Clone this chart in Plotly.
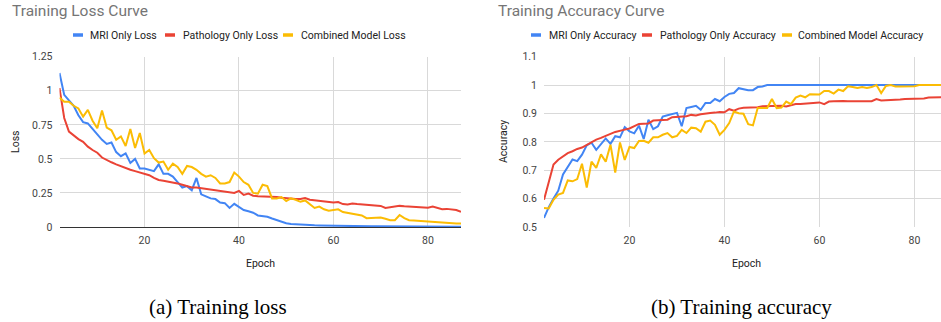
import plotly.graph_objects as go

W, H = 941, 322

epochs = list(range(2, 88))

mri_loss = [1.13, 0.97, 0.93, 0.89, 0.82, 0.77, 0.76, 0.72, 0.68, 0.64, 0.61, 0.62, 0.55, 0.52,
            0.54, 0.47, 0.50, 0.43, 0.43, 0.42, 0.41, 0.46, 0.39, 0.39, 0.37, 0.33, 0.29, 0.30,
            0.27, 0.36, 0.24, 0.225, 0.21, 0.205, 0.18, 0.175, 0.14, 0.17, 0.145, 0.125, 0.115,
            0.105, 0.085, 0.08, 0.075, 0.062, 0.05, 0.038, 0.028, 0.022, 0.019, 0.017, 0.015,
            0.013, 0.012, 0.011, 0.010, 0.009, 0.009, 0.008, 0.008, 0.007, 0.007, 0.006, 0.006,
            0.006, 0.005, 0.005, 0.005, 0.005, 0.004, 0.004, 0.004, 0.004, 0.004, 0.003, 0.003,
            0.003, 0.003, 0.003, 0.003, 0.003, 0.002, 0.002, 0.002, 0.002]
path_loss = [1.02, 0.80, 0.70, 0.67, 0.645, 0.625, 0.59, 0.565, 0.545, 0.51, 0.49, 0.475, 0.46,
             0.445, 0.43, 0.42, 0.41, 0.40, 0.39, 0.38, 0.36, 0.345, 0.34, 0.335, 0.33, 0.32,
             0.31, 0.30, 0.29, 0.29, 0.285, 0.275, 0.275, 0.27, 0.265, 0.26, 0.255, 0.25, 0.265,
             0.235, 0.245, 0.23, 0.225, 0.225, 0.22, 0.225, 0.22, 0.215, 0.21, 0.21, 0.205,
             0.205, 0.212, 0.20, 0.195, 0.19, 0.185, 0.182, 0.18, 0.183, 0.168, 0.165, 0.172,
             0.168, 0.165, 0.163, 0.162, 0.16, 0.155, 0.14, 0.145, 0.15, 0.155, 0.152, 0.15,
             0.146, 0.147, 0.143, 0.142, 0.15, 0.14, 0.13, 0.133, 0.13, 0.125, 0.112]
comb_loss = [0.95, 0.92, 0.92, 0.89, 0.87, 0.81, 0.86, 0.78, 0.725, 0.855, 0.73, 0.71, 0.64,
             0.665, 0.595, 0.72, 0.58, 0.69, 0.54, 0.566, 0.505, 0.473, 0.48, 0.42, 0.465,
             0.44, 0.39, 0.448, 0.44, 0.42, 0.39, 0.37, 0.38, 0.36, 0.32, 0.32, 0.33, 0.40,
             0.37, 0.33, 0.31, 0.25, 0.245, 0.31, 0.30, 0.21, 0.21, 0.22, 0.19, 0.21, 0.20,
             0.185, 0.195, 0.17, 0.14, 0.15, 0.13, 0.12, 0.125, 0.13, 0.11, 0.105, 0.10, 0.09,
             0.085, 0.065, 0.065, 0.07, 0.07, 0.06, 0.05, 0.05, 0.088, 0.065, 0.05, 0.048,
             0.045, 0.045, 0.04, 0.037, 0.033, 0.03, 0.028, 0.026, 0.025, 0.025]

mri_acc = [0.532, 0.57, 0.60, 0.628, 0.685, 0.714, 0.738, 0.732, 0.755, 0.788, 0.797, 0.772,
           0.793, 0.812, 0.793, 0.82, 0.816, 0.852, 0.837, 0.83, 0.857, 0.81, 0.878, 0.845,
           0.855, 0.889, 0.894, 0.899, 0.902, 0.855, 0.919, 0.923, 0.927, 0.913, 0.937, 0.937,
           0.951, 0.943, 0.958, 0.969, 0.972, 0.989, 0.985, 0.982, 0.982, 0.993, 0.995] + [1.0] * 39
path_acc = [0.596, 0.66, 0.72, 0.737, 0.75, 0.76, 0.767, 0.775, 0.78, 0.79, 0.80, 0.808, 0.814,
            0.82, 0.828, 0.835, 0.84, 0.843, 0.847, 0.855, 0.863, 0.864, 0.865, 0.875, 0.876,
            0.877, 0.878, 0.887, 0.888, 0.89, 0.89, 0.895, 0.893, 0.897, 0.90, 0.902, 0.903,
            0.905, 0.904, 0.915, 0.91, 0.917, 0.92, 0.92, 0.92, 0.922, 0.925, 0.926, 0.927,
            0.927, 0.927, 0.925, 0.928, 0.933, 0.933, 0.935, 0.937, 0.938, 0.939, 0.933, 0.942,
            0.943, 0.944, 0.944, 0.943, 0.943, 0.944, 0.944, 0.943, 0.943, 0.951, 0.946, 0.947,
            0.947, 0.948, 0.949, 0.951, 0.951, 0.953, 0.951, 0.953, 0.956, 0.957, 0.957, 0.958,
            0.958]
comb_acc = [0.567, 0.565, 0.596, 0.614, 0.62, 0.664, 0.661, 0.669, 0.723, 0.639, 0.73, 0.708,
            0.756, 0.73, 0.79, 0.692, 0.798, 0.736, 0.782, 0.778, 0.803, 0.804, 0.797, 0.816,
            0.816, 0.825, 0.831, 0.816, 0.821, 0.842, 0.831, 0.85, 0.848, 0.836, 0.871, 0.875,
            0.86, 0.825, 0.842, 0.866, 0.907, 0.901, 0.899, 0.862, 0.858, 0.919, 0.919, 0.919,
            0.951, 0.919, 0.921, 0.942, 0.933, 0.956, 0.963, 0.957, 0.968, 0.968, 0.967, 0.979,
            0.979, 0.97, 0.984, 0.979, 0.996, 0.993, 0.99, 0.993, 0.99, 0.993, 1.0, 0.972,
            0.997, 1.0, 0.995, 0.995, 0.995, 0.995, 0.996, 1.0, 1.0, 1.0, 1.0, 1.0, 1.0, 1.0]

loss_names = ["MRI Only Loss", "Pathology Only Loss", "Combined Model Loss"]
acc_names = ["MRI Only Accuracy", "Pathology Only Accuracy", "Combined Model Accuracy"]
colors = ["#4285F4", "#EA4335", "#FBBC04"]
x_ticks = [20, 40, 60, 80]
loss_ticks = [0, 0.25, 0.5, 0.75, 1, 1.25]
acc_ticks = [0.5, 0.6, 0.7, 0.8, 0.9, 1, 1.1]


def px(x):
    return x / W


def py(y):
    return 1 - y / H


FONT = "Roboto, Arial, sans-serif"
fig = go.Figure()

for name, vals, c in zip(loss_names, [mri_loss, path_loss, comb_loss], colors):
    fig.add_trace(go.Scatter(x=epochs, y=vals, name=name, mode="lines",
                             line=dict(color=c, width=2), xaxis="x", yaxis="y",
                             showlegend=False))
for name, vals, c in zip(acc_names, [mri_acc, path_acc, comb_acc], colors):
    fig.add_trace(go.Scatter(x=epochs, y=vals, name=name, mode="lines",
                             line=dict(color=c, width=2), xaxis="x2", yaxis="y2",
                             showlegend=False))

grid = "#d9d9d9"
tickfont = dict(family=FONT, size=10.5, color="#444444")
common_x = dict(tickvals=x_ticks, showgrid=True, gridcolor=grid, gridwidth=1,
                zeroline=False, showline=False, tickfont=tickfont, ticks="",
                ticklabelstandoff=5, automargin=False)
common_y = dict(showgrid=True, gridcolor=grid, gridwidth=1, showline=False,
                tickfont=tickfont, ticks="", ticklabelstandoff=6, automargin=False)

ydom = [py(227), py(56.7)]
fig.update_layout(
    width=W, height=H, autosize=False,
    margin=dict(l=0, r=0, t=0, b=0, pad=0),
    paper_bgcolor="white", plot_bgcolor="white",
    showlegend=False,
    xaxis=dict(domain=[px(59.5), px(461)], range=[2, 87], anchor="y", **common_x),
    yaxis=dict(domain=ydom, range=[0, 1.25], tickvals=loss_ticks, anchor="x",
               zeroline=True, zerolinecolor="#333333", zerolinewidth=1.2, **common_y),
    xaxis2=dict(domain=[px(544), 1.0], range=[2, 85.6], anchor="y2", **common_x),
    yaxis2=dict(domain=ydom, range=[0.5, 1.1], tickvals=acc_ticks, anchor="x2",
                zeroline=False, **common_y),
)

ann = []
# titles
ann.append(dict(text="Training Loss Curve", x=px(10), y=py(10.5), xanchor="left",
                yanchor="middle", font=dict(family=FONT, size=15.5, color="#757575")))
ann.append(dict(text="Training Accuracy Curve", x=px(496), y=py(10.5), xanchor="left",
                yanchor="middle", font=dict(family=FONT, size=15.5, color="#757575")))
# axis titles
ann.append(dict(text="Epoch", x=px(260), y=py(263), xanchor="center", yanchor="middle",
                font=dict(family=FONT, size=10.5, color="#222222")))
ann.append(dict(text="Epoch", x=px(746), y=py(263), xanchor="center", yanchor="middle",
                font=dict(family=FONT, size=10.5, color="#222222")))
ann.append(dict(text="Loss", x=px(15), y=py(142), xanchor="center", yanchor="middle",
                textangle=-90, font=dict(family=FONT, size=10.5, color="#222222")))
ann.append(dict(text="Accuracy", x=px(503), y=py(142), xanchor="center", yanchor="middle",
                textangle=-90, font=dict(family=FONT, size=10.5, color="#222222")))
# captions
ann.append(dict(text="(a) Training loss", x=px(218), y=py(307), xanchor="center",
                yanchor="middle", font=dict(family="Liberation Serif, serif", size=21,
                                            color="#000000")))
ann.append(dict(text="(b) Training accuracy", x=px(741), y=py(307), xanchor="center",
                yanchor="middle", font=dict(family="Liberation Serif, serif", size=21,
                                            color="#000000")))

shapes = []
legend_y = 35
loss_leg = [(73, 88), (165, 181), (283, 299)]
acc_leg = [(531, 547), (642, 658), (782, 796)]
for names, pos in [(loss_names, loss_leg), (acc_names, acc_leg)]:
    for name, (sx, tx), c in zip(names, pos, colors):
        shapes.append(dict(type="line", xref="paper", yref="paper", x0=px(sx), x1=px(sx + 10),
                           y0=py(legend_y), y1=py(legend_y), line=dict(color=c, width=3.5)))
        ann.append(dict(text=name, x=px(tx), y=py(legend_y), xanchor="left", yanchor="middle",
                        font=dict(family=FONT, size=10.5, color="#222222")))

for a in ann:
    a.update(xref="paper", yref="paper", showarrow=False)
fig.update_layout(annotations=ann, shapes=shapes)

fig.write_html("out.html", config={"displayModeBar": False},
               post_script="document.body.style.margin='0';document.body.style.overflow='hidden';")
